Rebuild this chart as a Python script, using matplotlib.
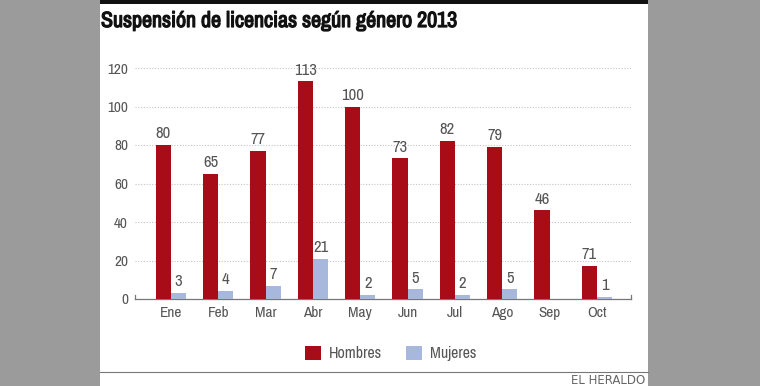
import matplotlib.pyplot as plt
import matplotlib.patches as mpatches
import matplotlib.patheffects as pe
import numpy as np
from matplotlib import font_manager

# === データ ===
meses = ["Ene", "Feb", "Mar", "Abr", "May", "Jun", "Jul", "Ago", "Sep", "Oct"]
hombres = [80, 65, 77, 113, 100, 73, 82, 79, 46, 17]
hombres_etiquetas = ["80", "65", "77", "113", "100", "73", "82", "79", "46", "71"]
mujeres = [3, 4, 7, 21, 2, 5, 2, 5, 0, 1]
mujeres_etiquetas = ["3", "4", "7", "21", "2", "5", "2", "5", "", "1"]
y_ticks = [0, 20, 40, 60, 80, 100, 120]

ROJO = "#a80c16"
AZUL = "#a8b8dc"
GRIS_TXT = "#555555"

# condensed font if available
nombres = sorted({f.name for f in font_manager.fontManager.ttflist})
condensadas = [n for n in nombres if "Narrow" in n or "Condensed" in n]
FONT = condensadas[:1] + ["DejaVu Sans"]
plt.rcParams["font.family"] = FONT
plt.rcParams["font.stretch"] = "condensed"

fig = plt.figure(figsize=(7.6, 3.86), dpi=100)
fig.patch.set_facecolor("#9b9b9b")
W, H = 760, 386

# white panel
fig.patches.append(mpatches.Rectangle((100 / W, 0), 548 / W, 1, transform=fig.transFigure,
                                      facecolor="white", edgecolor="none", zorder=-10))
# top black rule
fig.patches.append(mpatches.Rectangle((100 / W, 1 - 4 / H), 548 / W, 4 / H, transform=fig.transFigure,
                                      facecolor="#111111", edgecolor="none", zorder=-9))
# bottom rule
fig.add_artist(plt.Line2D([100 / W, 648 / W], [1 - 372 / H] * 2, transform=fig.transFigure,
                          color="#777777", lw=0.8))

fig.text(101 / W, 1 - 21 / H, "Suspensión de licencias según género 2013", fontsize=15.8,
         fontweight="bold", color="#111111", va="center", ha="left",
         path_effects=[pe.withStroke(linewidth=0.9, foreground="#111111")])
fig.text(645 / W, 1 - 380 / H, "EL HERALDO", fontsize=8.5, color="#666666",
         family=["DejaVu Sans"], stretch="normal", va="center", ha="right")

ax = fig.add_axes([135 / W, 1 - 299 / H, 496 / W, 231 / H])
x = np.arange(len(meses))
w = 0.32
ax.bar(x - w / 2, hombres, w, color=ROJO, label="Hombres", zorder=3)
ax.bar(x + w / 2, mujeres, w, color=AZUL, label="Mujeres", zorder=3)

for xi, v, t in zip(x, hombres, hombres_etiquetas):
    ax.text(xi - w / 2, v + 2, t, ha="center", va="bottom", fontsize=12, color=GRIS_TXT)
for xi, v, t in zip(x, mujeres, mujeres_etiquetas):
    ax.text(xi + w / 2, v + 2, t, ha="center", va="bottom", fontsize=12, color=GRIS_TXT)

ax.set_xlim(-0.76, 9.72)
ax.set_ylim(0, 120)
ax.set_yticks(y_ticks)
ax.set_xticks(x)
ax.set_xticklabels(meses)
ax.yaxis.grid(True, linestyle=(0, (1, 1.5)), color="#c4c4c4", lw=0.8, zorder=0)
for s in ["top", "right", "left"]:
    ax.spines[s].set_visible(False)
ax.spines["bottom"].set_color("#777777")
ax.spines["bottom"].set_linewidth(0.9)
ax.tick_params(axis="both", length=0, labelsize=11, labelcolor=GRIS_TXT)
ax.tick_params(axis="y", pad=5)
ax.tick_params(axis="x", pad=5)
ax.set_facecolor("none")
# small end ticks on baseline
for xe in (-0.76, 9.72):
    ax.plot([xe, xe], [0, 2], color="#777777", lw=0.9, clip_on=False)

ax.legend(loc="upper center", bbox_to_anchor=(0.515, -0.14), ncol=2, frameon=False,
          fontsize=11.5, labelcolor=GRIS_TXT, handlelength=1.0, handleheight=1.0,
          columnspacing=1.5, handletextpad=0.5)

fig.savefig("out.png", dpi=100, facecolor=fig.get_facecolor())
